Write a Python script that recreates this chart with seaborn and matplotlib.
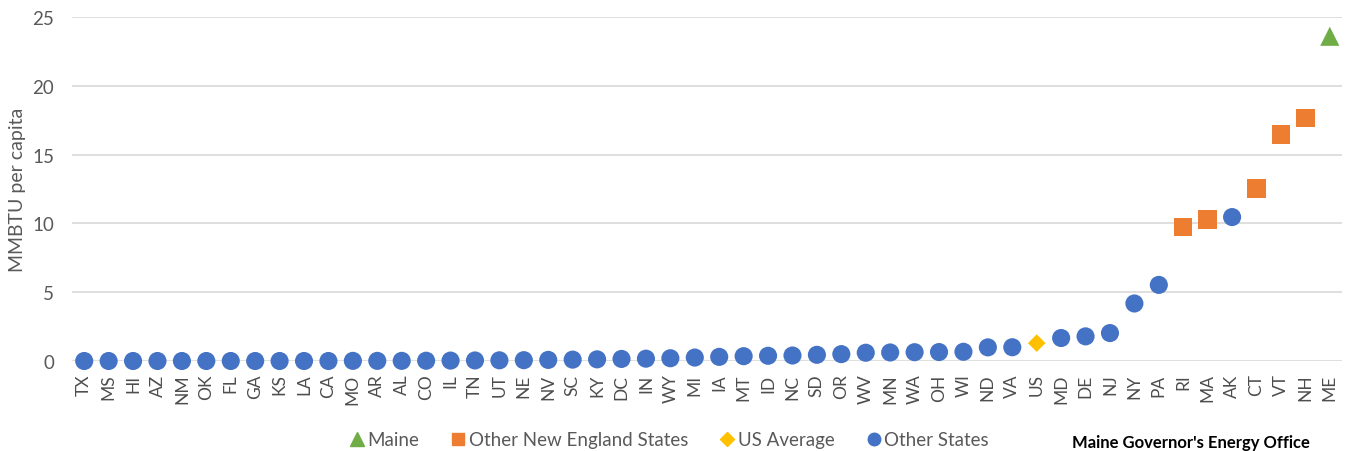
import matplotlib
matplotlib.use("Agg")
import matplotlib.pyplot as plt
from matplotlib.lines import Line2D
import seaborn as sns
import pandas as pd

states = ["TX", "MS", "HI", "AZ", "NM", "OK", "FL", "GA", "KS", "LA", "CA", "MO", "AR",
          "AL", "CO", "IL", "TN", "UT", "NE", "NV", "SC", "KY", "DC", "IN", "WY", "MI",
          "IA", "MT", "ID", "NC", "SD", "OR", "WV", "MN", "WA", "OH", "WI", "ND", "VA",
          "US", "MD", "DE", "NJ", "NY", "PA", "RI", "MA", "AK", "CT", "VT", "NH", "ME"]
mmbtu = [0.0, 0.0, 0.0, 0.0, 0.0, 0.0, 0.0, 0.0, 0.0, 0.0, 0.0, 0.01, 0.01,
         0.01, 0.02, 0.03, 0.04, 0.05, 0.06, 0.08, 0.10, 0.12, 0.15, 0.17, 0.20, 0.25,
         0.30, 0.35, 0.38, 0.40, 0.45, 0.50, 0.60, 0.62, 0.64, 0.65, 0.67, 0.99, 1.00,
         1.30, 1.67, 1.79, 2.03, 4.18, 5.53, 9.73, 10.27, 10.46, 12.54, 16.45, 17.68, 23.6]
new_england = ["RI", "MA", "CT", "VT", "NH"]

groups = ["Maine", "Other New England States", "US Average", "Other States"]
colors = {"Maine": "#70AD47", "Other New England States": "#ED7D31",
          "US Average": "#FFC000", "Other States": "#4472C4"}
markers = {"Maine": "^", "Other New England States": "s",
           "US Average": "D", "Other States": "o"}
sizes = {"Maine": 190, "Other New England States": 175,
         "US Average": 80, "Other States": 170}


def group_of(s):
    if s == "ME":
        return "Maine"
    if s in new_england:
        return "Other New England States"
    if s == "US":
        return "US Average"
    return "Other States"


df = pd.DataFrame({"state": states, "value": mmbtu})
df["group"] = df["state"].map(group_of)
df["pos"] = range(len(states))

sns.set_style("white")
plt.rcParams["font.family"] = ["Lato", "DejaVu Sans"]

W, H = 1354, 452
fig = plt.figure(figsize=(W / 100, H / 100), dpi=100)
ax = fig.add_axes([72 / W, 1 - 362 / H, (1342 - 72) / W, (362 - 18) / H])

sns.scatterplot(data=df, x="pos", y="value", hue="group", style="group", size="group",
                hue_order=groups, style_order=groups, size_order=groups,
                palette=colors, markers=markers, sizes=sizes, linewidth=0,
                ax=ax, clip_on=False, zorder=3, legend=False)

ax.set_xlim(-0.5, len(states) - 0.5)
ax.set_ylim(0, 25)
ax.set_yticks([0, 5, 10, 15, 20, 25])
ax.set_xticks(range(len(states)))
ax.set_xticklabels(states, rotation=90)
ax.yaxis.grid(True, color="#D9D9D9", linewidth=1.2)
ax.set_axisbelow(True)
for sp in ax.spines.values():
    sp.set_visible(False)
ax.tick_params(axis="y", length=0, pad=13, labelsize=13.5, labelcolor="#595959")
ax.tick_params(axis="x", length=0, pad=9, labelsize=12.5, labelcolor="#4d4d4d")
ax.set_xlabel("")
ax.set_ylabel("MMBTU per capita", fontsize=14, color="#595959", labelpad=4)

handles = [Line2D([0], [0], linestyle="none", marker=markers[g], color=colors[g],
                  markersize={"Maine": 10, "Other New England States": 9,
                              "US Average": 7, "Other States": 9}[g])
           for g in groups]
leg = fig.legend(handles, groups, loc="center", bbox_to_anchor=(668 / W, 1 - 441 / H),
                 ncol=4, frameon=False, fontsize=13.5, handletextpad=0.05,
                 columnspacing=1.6, handlelength=1.0, labelcolor="#595959")

fig.text(1072 / W, 1 - 451 / H, "Maine Governor's Energy Office", fontsize=12,
         fontweight="bold", color="black", ha="left", va="bottom")

fig.savefig("out.png", dpi=100)
